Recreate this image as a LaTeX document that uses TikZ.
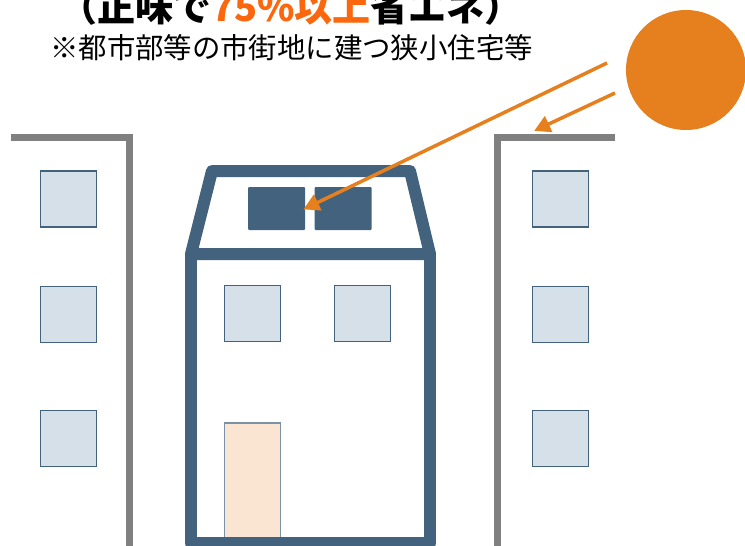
\documentclass[tikz,border=0pt]{standalone}
\usepackage{fontspec}
\newfontfamily\jpfont{Noto Sans CJK JP}
\usetikzlibrary{arrows.meta}

\definecolor{houseblue}{RGB}{66,98,126}
\definecolor{winfill}{RGB}{214,224,233}
\definecolor{doorfill}{RGB}{250,228,210}
\definecolor{sunorange}{RGB}{230,128,30}
\definecolor{hlorange}{RGB}{252,102,12}
\definecolor{wallgray}{RGB}{128,128,128}

\begin{document}
\begin{tikzpicture}[
		x=1pt, y=-1pt,
		wall/.style={draw=wallgray, line width=7pt},
		house/.style={draw=houseblue, line width=12pt, line join=round},
		win/.style={draw=houseblue, fill=winfill, line width=1.5pt,
		minimum width=56pt, minimum height=56pt, inner sep=0pt},
		panel/.style={fill=houseblue, rounded corners=1pt,
		minimum width=57pt, minimum height=43pt, inner sep=0pt},
		doorbox/.style={draw=houseblue!70, fill=doorfill, line width=1.2pt,
		minimum width=56pt, minimum height=120pt, inner sep=0pt},
		ray/.style={draw=sunorange, line width=3.5pt,
		-{Triangle[length=16pt,width=17pt]}, shorten >=-2pt}
	]
		\useasboundingbox (0,0) rectangle (745,546);
		\clip (0,0) rectangle (745,546);

		% 窓の y 座標
		\def\wa{199}
		\def\wb{314.5}
		\def\wc{438.5}

		% 見出し
		\node[anchor=base, inner sep=0pt, font=\jpfont\bfseries\fontsize{38}{40}\selectfont]
			(title) at (291,21.5) {（正味で\textcolor{hlorange}{75\%以上}省エネ）};
		\node[anchor=base west, inner sep=0pt, font=\jpfont\fontsize{28.4}{30}\selectfont]
			(note) at (50,58) {※都市部等の市街地に建つ狭小住宅等};

		% 左右の建物
		\draw[wall] (11,137) -- (129.5,137) -- (129.5,546);
		\draw[wall] (615,137) -- (497,137) -- (497,546);
		\foreach \y [count=\i] in {\wa,\wb,\wc} {
			\node[win] (lw\i) at (68.5,\y) {};
			\node[win] (rw\i) at (560.5,\y) {};
		}

		% 住宅（窓・ドア・太陽光パネル）
		\node[win] (hw1) at (252.5,313.5) {};
		\node[win] (hw2) at (362.5,313.5) {};
		\node[doorbox] (door) at (252.5,483) {};
		\node[panel] (pl) at (276.5,208.5) {};
		\node[panel] (pr) at (343,208.5) {};
		\draw[house] (212,171) -- (410,171) -- (430,254) -- (191,254) -- cycle;
		\draw[house] (191,254) -- (191,543) -- (430,543) -- (430,254);

		% 太陽と日射
		\node[circle, fill=sunorange, minimum size=120pt, inner sep=0pt] (sun) at (686,70) {};
		\coordinate (ray1) at (607,63);
		\coordinate (ray2) at (615,93);
		\coordinate (rtop) at (536,130);
		\draw[ray] (ray1) -- (pl.east);
		\draw[ray] (ray2) -- (rtop);
\end{tikzpicture}
\end{document}
